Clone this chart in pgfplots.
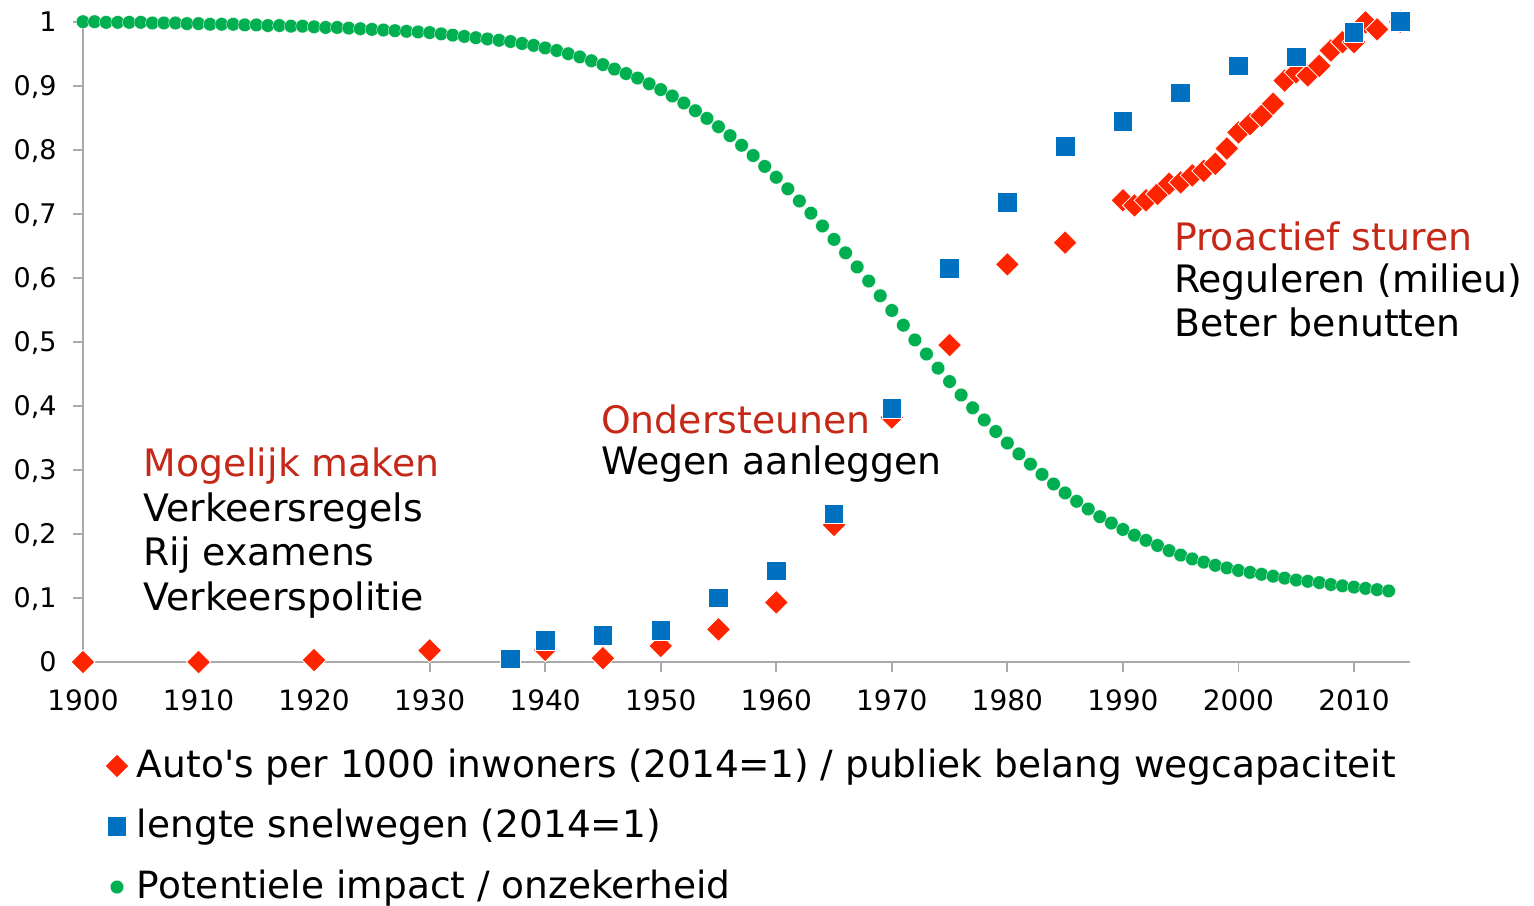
\documentclass[border=0pt]{standalone}
\usepackage{pgfplots}
\pgfplotsset{compat=1.18}
\usepackage{fontspec}
\setmainfont{DejaVu Sans}
\definecolor{cred}{RGB}{255,36,0}
\definecolor{cblue}{RGB}{0,112,192}
\definecolor{cgreen}{RGB}{0,176,80}
\definecolor{tred}{RGB}{198,40,24}
\definecolor{axgray}{RGB}{170,170,170}
\begin{document}
\begin{tikzpicture}
\useasboundingbox (-41.5pt,-121.5pt) rectangle (725.5pt,331pt);
\begin{axis}[
  scale only axis,
  width=663.5pt, height=320.15pt,
  xmin=1900, xmax=2014.85, ymin=0, ymax=1,
  clip=false,
  axis x line*=bottom, axis y line*=left,
  axis line style={axgray, line width=0.9pt, -},
  tick style={axgray, line width=0.9pt},
  major tick length=5pt, tick align=outside,
  xtick={1900,1910,...,2010},
  ytick={0,0.1,0.2,0.3,0.4,0.5,0.6,0.7,0.8,0.9,1},
  /pgf/number format/assume math mode=true,
  xticklabel style={/pgf/number format/1000 sep={}, anchor=north, inner sep=0pt, yshift=-9pt, font=\fontsize{14}{16}\selectfont, text height=10.2pt, text depth=0pt},
  yticklabel style={/pgf/number format/.cd, fixed, precision=1, use comma, /tikz/.cd, anchor=east, inner sep=0pt, xshift=-8pt, font=\fontsize{13.5}{15}\selectfont, text height=9.8pt, text depth=0pt},
  legend style={at={(axis description cs:0,0)}, anchor=north west, xshift=7pt, yshift=-44pt,
    draw=none, fill=none, inner sep=0pt, outer sep=0pt, row sep=12.25pt, column sep=0pt,
    font=\fontsize{18.75}{22}\selectfont,
    nodes={inner sep=0pt, text height=13.5pt, text depth=4.5pt, anchor=base west}},
  legend image code/.code={\path[draw=none, fill=none] (0pt,-4.5pt) rectangle (20pt,13.5pt); \draw[#1] plot coordinates {(10pt,5.5pt)};},
]
\addplot[only marks, mark=square*, mark size=4.25pt, mark options={rotate=45, fill=cred, draw=white, line width=0.4pt}]
coordinates {
(1900,0) (1910,0) (1920,0.003) (1930,0.018) (1940,0.019) (1945,0.006) (1950,0.025) (1955,0.051)
(1960,0.093) (1965,0.214) (1970,0.382) (1975,0.495) (1980,0.621) (1985,0.655)
(1990,0.721) (1991,0.713) (1992,0.721) (1993,0.731) (1994,0.747) (1995,0.749) (1996,0.760)
(1997,0.767) (1998,0.778) (1999,0.802) (2000,0.827) (2001,0.840) (2002,0.853) (2003,0.872)
(2004,0.908) (2005,0.921) (2006,0.916) (2007,0.931) (2008,0.955) (2009,0.968) (2010,0.968)
(2011,0.999) (2012,0.988) (2014,1.000)
};
\addlegendentry{Auto\textquotesingle s per 1000 inwoners (2014=1) / publiek belang wegcapaciteit}
\addplot[only marks, mark=square*, mark size=4.9pt, mark options={fill=cblue, draw=white, line width=0.4pt}]
coordinates {
(1937,0.005) (1940,0.034) (1945,0.042) (1950,0.049) (1955,0.100) (1960,0.142) (1965,0.231)
(1970,0.396) (1975,0.615) (1980,0.718) (1985,0.805) (1990,0.844) (1995,0.889) (2000,0.931)
(2005,0.945) (2010,0.983) (2014,1.000)
};
\addlegendentry{lengte snelwegen (2014=1)}
\addplot[only marks, mark=*, mark size=3.4pt, mark options={fill=cgreen, draw=white, line width=0.15pt}]
table {
1900 1.000
1901 1.000
1902 0.999
1903 0.999
1904 0.999
1905 0.999
1906 0.998
1907 0.998
1908 0.998
1909 0.997
1910 0.997
1911 0.996
1912 0.996
1913 0.996
1914 0.995
1915 0.995
1916 0.994
1917 0.994
1918 0.993
1919 0.993
1920 0.992
1921 0.991
1922 0.991
1923 0.990
1924 0.989
1925 0.988
1926 0.987
1927 0.986
1928 0.985
1929 0.984
1930 0.983
1931 0.981
1932 0.979
1933 0.977
1934 0.975
1935 0.973
1936 0.971
1937 0.969
1938 0.966
1939 0.963
1940 0.959
1941 0.955
1942 0.950
1943 0.945
1944 0.939
1945 0.933
1946 0.926
1947 0.919
1948 0.912
1949 0.903
1950 0.894
1951 0.884
1952 0.873
1953 0.861
1954 0.849
1955 0.836
1956 0.822
1957 0.807
1958 0.791
1959 0.774
1960 0.757
1961 0.739
1962 0.720
1963 0.701
1964 0.681
1965 0.660
1966 0.639
1967 0.617
1968 0.595
1969 0.572
1970 0.549
1971 0.526
1972 0.503
1973 0.481
1974 0.459
1975 0.438
1976 0.417
1977 0.397
1978 0.378
1979 0.360
1980 0.342
1981 0.325
1982 0.309
1983 0.293
1984 0.278
1985 0.264
1986 0.251
1987 0.239
1988 0.227
1989 0.217
1990 0.207
1991 0.198
1992 0.190
1993 0.182
1994 0.174
1995 0.167
1996 0.161
1997 0.156
1998 0.151
1999 0.147
2000 0.143
2001 0.140
2002 0.137
2003 0.134
2004 0.131
2005 0.128
2006 0.126
2007 0.124
2008 0.121
2009 0.119
2010 0.117
2011 0.115
2012 0.113
2013 0.111
};
\addlegendentry{Potentiele impact / onzekerheid}
\begin{scope}[every node/.style={anchor=base west, inner sep=0pt, font=\fontsize{18.9}{22}\selectfont}]
\node[text=tred] at (axis cs:1905.2,0.2902) {Mogelijk maken};
\node at (axis cs:1905.2,0.2189) {Verkeersregels};
\node at (axis cs:1905.2,0.1513) {Rij examens};
\node at (axis cs:1905.2,0.0800) {Verkeerspolitie};
\node[text=tred] at (axis cs:1944.8,0.3573) {Ondersteunen};
\node at (axis cs:1944.8,0.2933) {Wegen aanleggen};
\node[text=tred] at (axis cs:1994.4,0.6427) {Proactief sturen};
\node at (axis cs:1994.4,0.5777) {Reguleren (milieu)};
\node at (axis cs:1994.4,0.5090) {Beter benutten};
\end{scope}
\end{axis}
\end{tikzpicture}
\end{document}
